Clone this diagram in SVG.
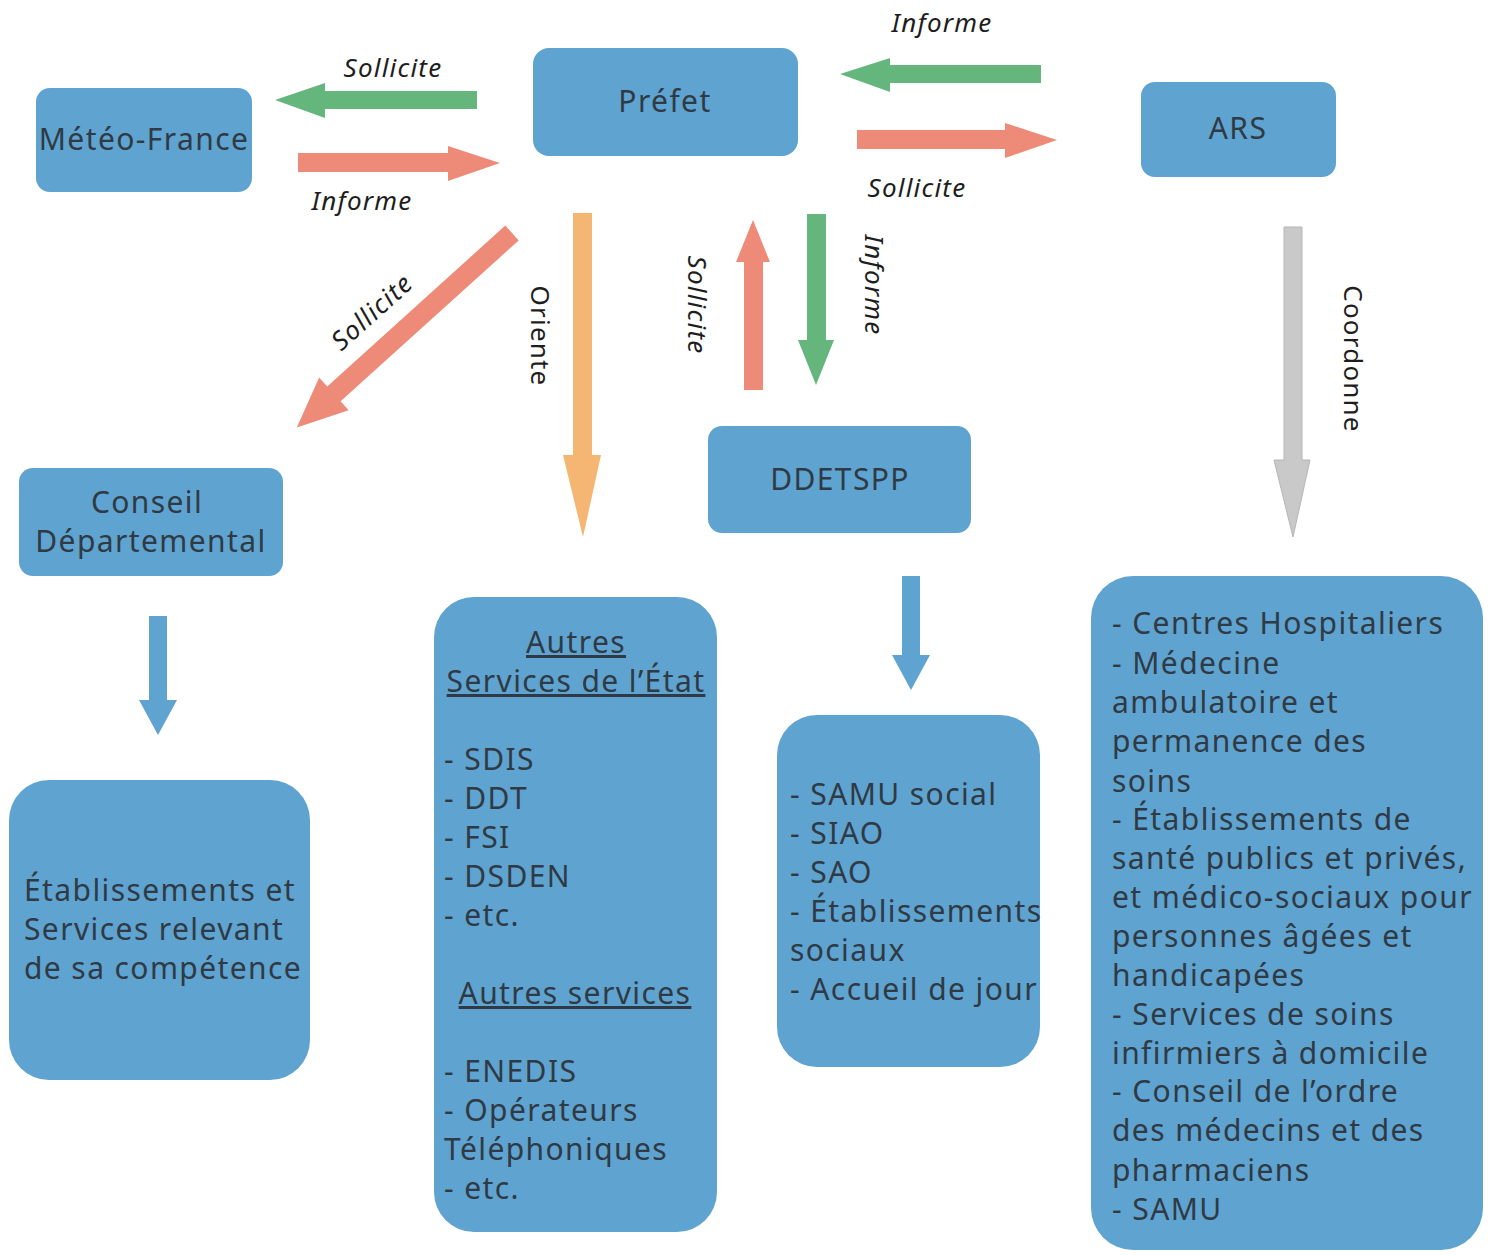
<svg xmlns="http://www.w3.org/2000/svg" width="1489" height="1255" viewBox="0 0 1489 1255">
<style>
.box{fill:#5fa3d0;}
.t{font-family:"Noto Sans","Open Sans",sans-serif;font-size:30px;letter-spacing:1.4px;fill:#2f3a44;}
.c{text-anchor:middle;}
.lbl{font-family:"Noto Sans","Open Sans",sans-serif;font-size:26px;letter-spacing:1.2px;font-style:italic;fill:#1e1e1e;text-anchor:middle;}
.u{text-decoration:underline;}
.green{fill:#65b67c;}
.salmon{fill:#ee8b78;}
.orange{fill:#f5b673;}
.gray{fill:#c9c9c9;stroke:#b5b5b5;stroke-width:1;}
.blue{fill:#5fa3d0;}
</style>
<rect width="1489" height="1255" fill="#ffffff"/>
<g id="connectors">
  <polygon class="green" points="477,91 325,91 325,83 275,100 325,118 325,109 477,109"/>
  <polygon class="salmon" points="298,153 448,153 448,146 500,163 448,181 448,172 298,172"/>
  <polygon class="green" points="1041,65 890,65 890,58 840,74 890,92 890,83 1041,83"/>
  <polygon class="salmon" points="857,130 1005,130 1005,123 1057,140 1005,158 1005,149 857,149"/>
  <polygon class="salmon" transform="translate(512,233) rotate(137.9)" points="0,-10 240,-10 240,-22 290,0 240,22 240,10 0,10"/>
  <polygon class="orange" points="573,213 592,213 592,455 601,455 583,537 563,455 573,455"/>
  <polygon class="salmon" points="744,390 763,390 763,262 770,262 753,220 736,262 744,262"/>
  <polygon class="green" points="807,214 826,214 826,340 834,340 816,385 798,340 807,340"/>
  <polygon class="gray" points="1284,227 1302,227 1302,460 1310,460 1293,537 1274,460 1284,460"/>
  <polygon class="blue" points="149,616 167,616 167,700 177,700 158,735 139,700 149,700"/>
  <polygon class="blue" points="902,576 920,576 920,655 930,655 911,690 892,655 902,655"/>
  <text class="lbl" x="393" y="77">Sollicite</text>
  <text class="lbl" x="362" y="210">Informe</text>
  <text class="lbl" x="942" y="32">Informe</text>
  <text class="lbl" x="917" y="197">Sollicite</text>
  <text class="lbl" transform="translate(372,312) rotate(-42)" y="9">Sollicite</text>
  <text class="lbl" style="font-style:normal" transform="translate(540,336) rotate(90)" y="9">Oriente</text>
  <text class="lbl" transform="translate(697,305) rotate(90)" y="9">Sollicite</text>
  <text class="lbl" transform="translate(874,285) rotate(90)" y="9">Informe</text>
  <text class="lbl" style="font-style:normal" transform="translate(1353,359) rotate(90)" y="9">Coordonne</text>
</g>
<g id="meteo">
  <rect class="box" x="36" y="88" width="216" height="104" rx="14"/>
  <text class="t c" x="144" y="150">Météo-France</text>
</g>
<g id="prefet">
  <rect class="box" x="533" y="48" width="265" height="108" rx="16"/>
  <text class="t c" x="665" y="112">Préfet</text>
</g>
<g id="ars">
  <rect class="box" x="1141" y="82" width="195" height="95" rx="14"/>
  <text class="t c" x="1238" y="139">ARS</text>
</g>
<g id="conseil">
  <rect class="box" x="19" y="468" width="264" height="108" rx="14"/>
  <text class="t c" x="147" y="513">Conseil</text>
  <text class="t c" x="151" y="552">Départemental</text>
</g>
<g id="ddetspp">
  <rect class="box" x="708" y="426" width="263" height="107" rx="14"/>
  <text class="t c" x="840" y="490">DDETSPP</text>
</g>
<g id="etablissements">
  <rect class="box" x="9" y="780" width="301" height="300" rx="40"/>
  <text class="t" x="24" y="901">Établissements et</text>
  <text class="t" x="24" y="940">Services relevant</text>
  <text class="t" x="24" y="979">de sa compétence</text>
</g>
<g id="autres">
  <rect class="box" x="434" y="597" width="283" height="635" rx="40"/>
  <text class="t c u" x="576" y="653">Autres</text>
  <text class="t c u" x="576" y="692">Services de l’État</text>
  <text class="t" x="444" y="770">- SDIS</text>
  <text class="t" x="444" y="809">- DDT</text>
  <text class="t" x="444" y="848">- FSI</text>
  <text class="t" x="444" y="887">- DSDEN</text>
  <text class="t" x="444" y="926">- etc.</text>
  <text class="t c u" x="575" y="1004">Autres services</text>
  <text class="t" x="444" y="1082">- ENEDIS</text>
  <text class="t" x="444" y="1121">- Opérateurs</text>
  <text class="t" x="444" y="1160">Téléphoniques</text>
  <text class="t" x="444" y="1199">- etc.</text>
</g>
<g id="social">
  <rect class="box" x="777" y="715" width="263" height="352" rx="40"/>
  <text class="t" x="790" y="805">- SAMU social</text>
  <text class="t" x="790" y="844">- SIAO</text>
  <text class="t" x="790" y="883">- SAO</text>
  <text class="t" x="790" y="922">- Établissements</text>
  <text class="t" x="790" y="961">sociaux</text>
  <text class="t" x="790" y="1000">- Accueil de jour</text>
</g>
<g id="sante">
  <rect class="box" x="1091" y="576" width="392" height="674" rx="42"/>
  <text class="t" x="1112" y="634">- Centres Hospitaliers</text>
  <text class="t" x="1112" y="674">- Médecine</text>
  <text class="t" x="1112" y="713">ambulatoire et</text>
  <text class="t" x="1112" y="752">permanence des</text>
  <text class="t" x="1112" y="792">soins</text>
  <text class="t" x="1112" y="830">- Établissements de</text>
  <text class="t" x="1112" y="869">santé publics et privés,</text>
  <text class="t" x="1112" y="908">et médico-sociaux pour</text>
  <text class="t" x="1112" y="947">personnes âgées et</text>
  <text class="t" x="1112" y="986">handicapées</text>
  <text class="t" x="1112" y="1025">- Services de soins</text>
  <text class="t" x="1112" y="1064">infirmiers à domicile</text>
  <text class="t" x="1112" y="1102">- Conseil de l’ordre</text>
  <text class="t" x="1112" y="1141">des médecins et des</text>
  <text class="t" x="1112" y="1181">pharmaciens</text>
  <text class="t" x="1112" y="1220">- SAMU</text>
</g>
</svg>
